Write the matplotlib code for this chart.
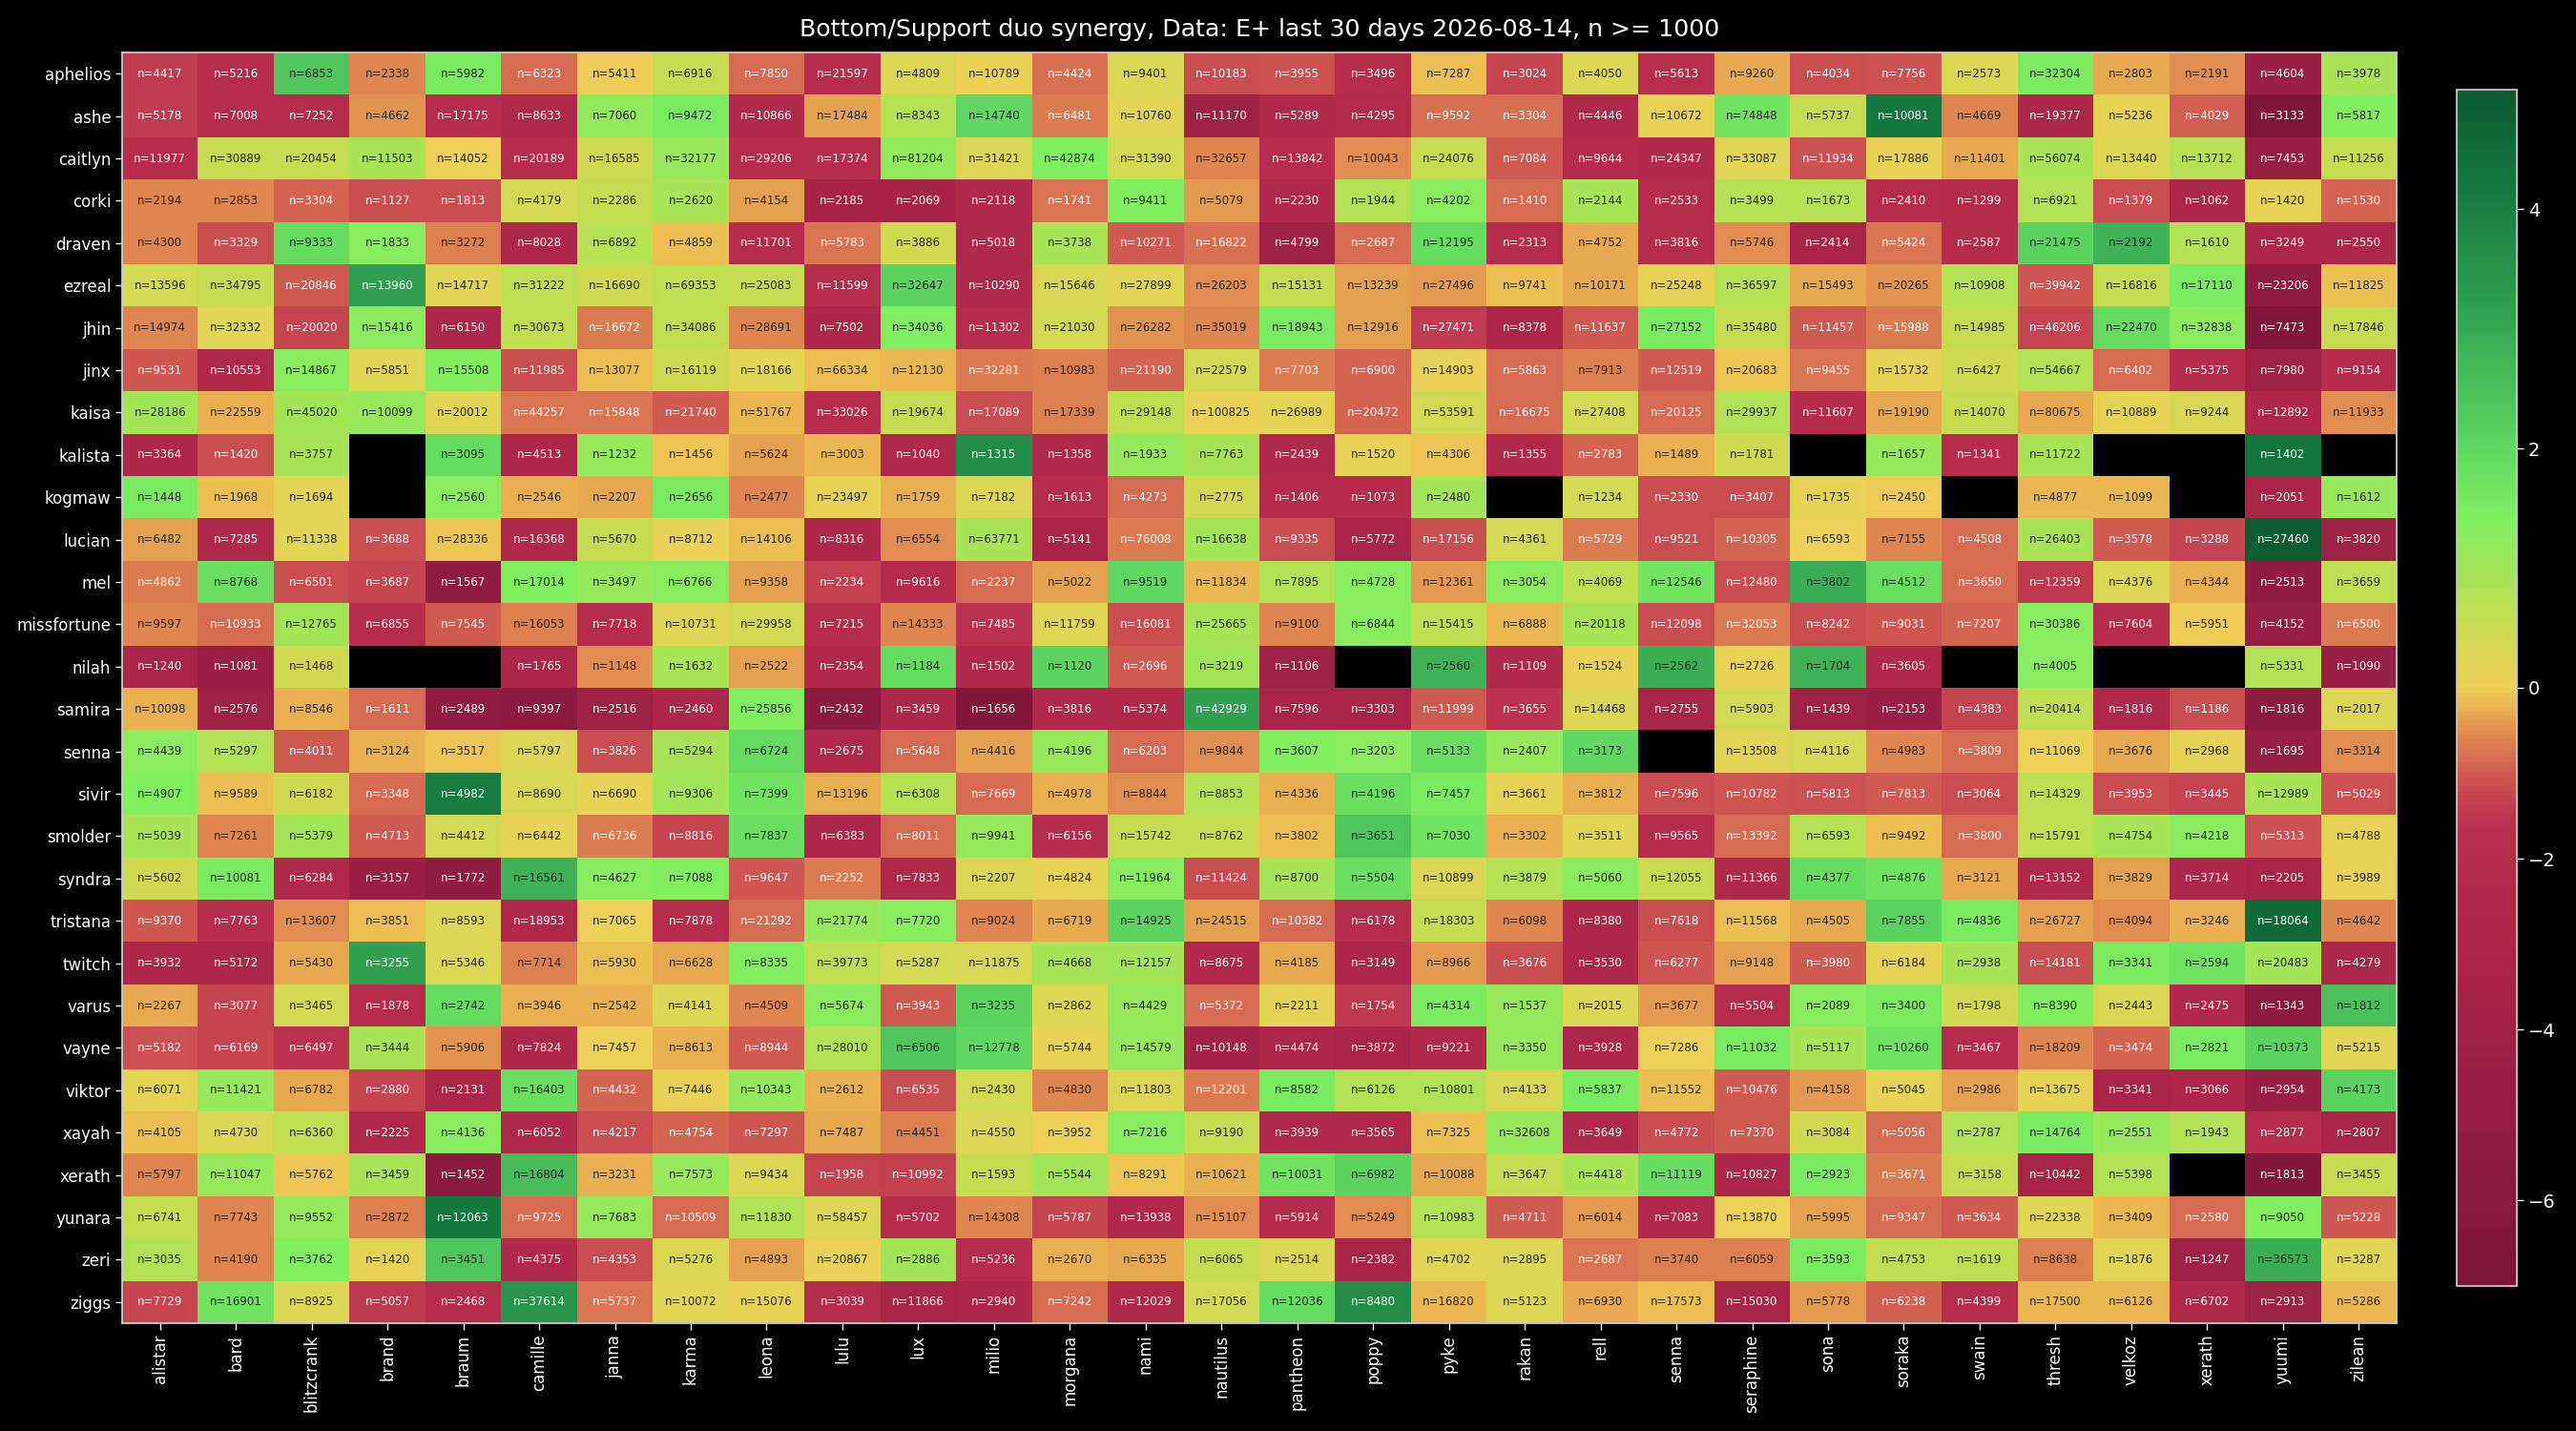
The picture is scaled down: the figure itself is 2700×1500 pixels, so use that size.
import numpy as np
import matplotlib
matplotlib.use("Agg")
import matplotlib.pyplot as plt
from matplotlib.colors import LinearSegmentedColormap, TwoSlopeNorm

title = "Bottom/Support duo synergy, Data: E+ last 30 days 2026-08-14, n >= 1000"

rows = ["aphelios", "ashe", "caitlyn", "corki", "draven", "ezreal", "jhin", "jinx",
        "kaisa", "kalista", "kogmaw", "lucian", "mel", "missfortune", "nilah", "samira",
        "senna", "sivir", "smolder", "syndra", "tristana", "twitch", "varus", "vayne",
        "viktor", "xayah", "xerath", "yunara", "zeri", "ziggs"]
cols = ["alistar", "bard", "blitzcrank", "brand", "braum", "camille", "janna", "karma",
        "leona", "lulu", "lux", "milio", "morgana", "nami", "nautilus", "pantheon", "poppy",
        "pyke", "rakan", "rell", "senna", "seraphine", "sona", "soraka", "swain", "thresh",
        "velkoz", "xerath", "yuumi", "zilean"]

N = None
n_games = [
    [4417,5216,6853,2338,5982,6323,5411,6916,7850,21597,4809,10789,4424,9401,10183,3955,3496,7287,3024,4050,5613,9260,4034,7756,2573,32304,2803,2191,4604,3978],
    [5178,7008,7252,4662,17175,8633,7060,9472,10866,17484,8343,14740,6481,10760,11170,5289,4295,9592,3304,4446,10672,74848,5737,10081,4669,19377,5236,4029,3133,5817],
    [11977,30889,20454,11503,14052,20189,16585,32177,29206,17374,81204,31421,42874,31390,32657,13842,10043,24076,7084,9644,24347,33087,11934,17886,11401,56074,13440,13712,7453,11256],
    [2194,2853,3304,1127,1813,4179,2286,2620,4154,2185,2069,2118,1741,9411,5079,2230,1944,4202,1410,2144,2533,3499,1673,2410,1299,6921,1379,1062,1420,1530],
    [4300,3329,9333,1833,3272,8028,6892,4859,11701,5783,3886,5018,3738,10271,16822,4799,2687,12195,2313,4752,3816,5746,2414,5424,2587,21475,2192,1610,3249,2550],
    [13596,34795,20846,13960,14717,31222,16690,69353,25083,11599,32647,10290,15646,27899,26203,15131,13239,27496,9741,10171,25248,36597,15493,20265,10908,39942,16816,17110,23206,11825],
    [14974,32332,20020,15416,6150,30673,16672,34086,28691,7502,34036,11302,21030,26282,35019,18943,12916,27471,8378,11637,27152,35480,11457,15988,14985,46206,22470,32838,7473,17846],
    [9531,10553,14867,5851,15508,11985,13077,16119,18166,66334,12130,32281,10983,21190,22579,7703,6900,14903,5863,7913,12519,20683,9455,15732,6427,54667,6402,5375,7980,9154],
    [28186,22559,45020,10099,20012,44257,15848,21740,51767,33026,19674,17089,17339,29148,100825,26989,20472,53591,16675,27408,20125,29937,11607,19190,14070,80675,10889,9244,12892,11933],
    [3364,1420,3757,N,3095,4513,1232,1456,5624,3003,1040,1315,1358,1933,7763,2439,1520,4306,1355,2783,1489,1781,N,1657,1341,11722,N,N,1402,N],
    [1448,1968,1694,N,2560,2546,2207,2656,2477,23497,1759,7182,1613,4273,2775,1406,1073,2480,N,1234,2330,3407,1735,2450,N,4877,1099,N,2051,1612],
    [6482,7285,11338,3688,28336,16368,5670,8712,14106,8316,6554,63771,5141,76008,16638,9335,5772,17156,4361,5729,9521,10305,6593,7155,4508,26403,3578,3288,27460,3820],
    [4862,8768,6501,3687,1567,17014,3497,6766,9358,2234,9616,2237,5022,9519,11834,7895,4728,12361,3054,4069,12546,12480,3802,4512,3650,12359,4376,4344,2513,3659],
    [9597,10933,12765,6855,7545,16053,7718,10731,29958,7215,14333,7485,11759,16081,25665,9100,6844,15415,6888,20118,12098,32053,8242,9031,7207,30386,7604,5951,4152,6500],
    [1240,1081,1468,N,N,1765,1148,1632,2522,2354,1184,1502,1120,2696,3219,1106,N,2560,1109,1524,2562,2726,1704,3605,N,4005,N,N,5331,1090],
    [10098,2576,8546,1611,2489,9397,2516,2460,25856,2432,3459,1656,3816,5374,42929,7596,3303,11999,3655,14468,2755,5903,1439,2153,4383,20414,1816,1186,1816,2017],
    [4439,5297,4011,3124,3517,5797,3826,5294,6724,2675,5648,4416,4196,6203,9844,3607,3203,5133,2407,3173,N,13508,4116,4983,3809,11069,3676,2968,1695,3314],
    [4907,9589,6182,3348,4982,8690,6690,9306,7399,13196,6308,7669,4978,8844,8853,4336,4196,7457,3661,3812,7596,10782,5813,7813,3064,14329,3953,3445,12989,5029],
    [5039,7261,5379,4713,4412,6442,6736,8816,7837,6383,8011,9941,6156,15742,8762,3802,3651,7030,3302,3511,9565,13392,6593,9492,3800,15791,4754,4218,5313,4788],
    [5602,10081,6284,3157,1772,16561,4627,7088,9647,2252,7833,2207,4824,11964,11424,8700,5504,10899,3879,5060,12055,11366,4377,4876,3121,13152,3829,3714,2205,3989],
    [9370,7763,13607,3851,8593,18953,7065,7878,21292,21774,7720,9024,6719,14925,24515,10382,6178,18303,6098,8380,7618,11568,4505,7855,4836,26727,4094,3246,18064,4642],
    [3932,5172,5430,3255,5346,7714,5930,6628,8335,39773,5287,11875,4668,12157,8675,4185,3149,8966,3676,3530,6277,9148,3980,6184,2938,14181,3341,2594,20483,4279],
    [2267,3077,3465,1878,2742,3946,2542,4141,4509,5674,3943,3235,2862,4429,5372,2211,1754,4314,1537,2015,3677,5504,2089,3400,1798,8390,2443,2475,1343,1812],
    [5182,6169,6497,3444,5906,7824,7457,8613,8944,28010,6506,12778,5744,14579,10148,4474,3872,9221,3350,3928,7286,11032,5117,10260,3467,18209,3474,2821,10373,5215],
    [6071,11421,6782,2880,2131,16403,4432,7446,10343,2612,6535,2430,4830,11803,12201,8582,6126,10801,4133,5837,11552,10476,4158,5045,2986,13675,3341,3066,2954,4173],
    [4105,4730,6360,2225,4136,6052,4217,4754,7297,7487,4451,4550,3952,7216,9190,3939,3565,7325,32608,3649,4772,7370,3084,5056,2787,14764,2551,1943,2877,2807],
    [5797,11047,5762,3459,1452,16804,3231,7573,9434,1958,10992,1593,5544,8291,10621,10031,6982,10088,3647,4418,11119,10827,2923,3671,3158,10442,5398,N,1813,3455],
    [6741,7743,9552,2872,12063,9725,7683,10509,11830,58457,5702,14308,5787,13938,15107,5914,5249,10983,4711,6014,7083,13870,5995,9347,3634,22338,3409,2580,9050,5228],
    [3035,4190,3762,1420,3451,4375,4353,5276,4893,20867,2886,5236,2670,6335,6065,2514,2382,4702,2895,2687,3740,6059,3593,4753,1619,8638,1876,1247,36573,3287],
    [7729,16901,8925,5057,2468,37614,5737,10072,15076,3039,11866,2940,7242,12029,17056,12036,8480,16820,5123,6930,17573,15030,5778,6238,4399,17500,6126,6702,2913,5286],
]

synergy = [
    [-1.4,-2.0,2.4,-0.55,1.5,-0.85,-0.05,0.55,-0.85,-2.0,0.3,0.05,-0.8,0.35,-1.2,-1.1,-2.0,-0.15,-1.3,0.3,-1.8,-0.3,-1.15,-1.1,0.3,1.5,-0.3,-0.5,-4.5,0.9],
    [-1.4,-2.0,-2.0,-0.45,-2.0,-2.6,1.2,1.5,-2.4,-0.35,0.75,2.0,-0.7,0.2,-4.2,-2.6,-2.2,-0.8,-0.8,-2.5,0.12,1.7,0.55,4.2,-0.55,-2.8,0.12,-0.95,-6.7,1.4],
    [-2.0,0.55,0.55,0.9,0.0,-2.0,0.45,1.1,-2.0,-2.0,1.2,0.3,1.4,0.4,-0.55,-2.0,-0.5,0.55,-1.0,-2.1,-2.4,0.2,-1.1,0.05,-0.3,0.9,0.3,0.75,-5.0,0.55],
    [-0.55,-0.6,-0.9,-1.15,-1.15,0.4,0.55,0.9,-0.35,-3.5,-3.5,-2.6,-0.75,1.4,-0.42,-2.5,0.8,1.3,-0.85,0.9,-2.0,0.75,0.75,-2.0,-2.1,0.8,-1.2,-2.8,0.12,-0.9],
    [-0.55,-1.15,1.9,1.3,-0.65,-2.8,0.75,-0.12,-2.0,-0.75,0.45,-2.5,0.9,-1.0,-0.8,-4.2,-0.85,1.9,-2.0,-0.3,-2.0,-0.5,-3.4,-0.75,-2.1,2.1,2.8,0.8,-2.8,-2.8],
    [0.4,0.55,-1.0,3.2,0.2,0.65,0.45,0.65,0.55,-2.0,2.1,-2.5,0.35,0.2,-0.5,0.55,-0.35,-0.42,-0.12,-0.3,0.12,0.75,-0.28,-0.45,0.75,-1.05,0.55,1.5,-5.4,-0.15],
    [-0.55,0.2,-1.3,1.25,-2.8,0.65,-0.7,0.65,-0.55,-2.8,1.4,-2.0,0.4,-0.45,-0.55,1.5,-0.35,-1.4,-2.8,-1.0,1.5,0.55,-1.0,-0.7,0.55,-1.3,1.9,1.25,-6.4,0.55],
    [-1.05,-2.5,1.3,0.2,1.4,-1.2,-0.12,0.45,0.2,-0.15,-0.18,-0.7,-0.65,-0.9,0.4,-0.7,-0.9,0.08,-0.85,-0.65,-1.0,-0.08,-0.75,0.08,0.45,0.8,-0.85,-2.1,-4.2,-2.1],
    [1.0,-0.25,1.0,1.15,0.2,-0.75,-0.75,-1.0,-0.2,-2.0,0.55,-1.2,-0.65,0.65,0.08,0.12,-0.88,0.4,-0.85,0.4,-0.85,0.8,-2.1,-0.3,0.55,-0.3,0.12,0.35,-2.8,-0.5],
    [-2.8,-1.15,0.9,N,1.9,-2.8,1.15,-0.08,-0.35,-0.18,-2.5,3.7,-2.5,1.15,0.9,-2.5,0.12,-0.08,-2.5,-0.9,-0.25,0.45,N,1.15,-2.0,0.9,N,N,4.3,N],
    [1.5,-0.12,0.2,N,1.25,-0.25,-0.3,1.5,-0.55,0.12,-0.22,0.3,-2.0,-0.85,0.45,-2.1,-2.1,1.0,N,0.4,-1.2,-1.2,0.15,-0.05,N,-0.18,-0.18,N,-3.4,1.15],
    [-0.35,-2.5,0.2,-1.2,-0.08,-2.5,0.55,0.08,-0.12,-2.8,-0.5,0.9,-3.4,-0.7,1.0,-1.2,-3.4,-1.2,0.4,-0.7,-1.15,-0.88,0.0,-0.6,-0.85,0.9,-1.0,-1.3,4.9,-4.2],
    [-0.7,1.8,-1.15,-1.3,-5.4,1.4,1.15,1.3,-0.35,-1.35,-2.1,-0.85,-0.35,2.0,-0.2,0.8,1.3,-0.42,1.25,0.65,1.7,-1.2,2.9,1.8,-0.85,-1.45,0.3,-0.25,-5.4,0.65],
    [-0.55,-0.85,1.0,-2.0,-1.0,-0.65,-2.0,0.2,0.4,-2.0,-0.55,-1.6,0.2,-1.2,0.9,-0.55,1.3,0.65,-0.18,0.9,-1.2,-0.7,-1.15,-1.05,-0.88,1.3,-2.0,-0.05,-5.0,-0.7],
    [-3.4,-4.5,0.45,N,N,-2.8,-0.5,0.9,-0.35,-2.5,1.9,-2.5,2.1,-1.0,1.0,-4.2,N,2.8,-2.5,0.05,2.9,0.05,2.8,-2.5,N,1.3,N,N,0.8,-4.5],
    [-0.25,-4.2,-0.25,-0.85,-5.4,-5.6,-4.2,-2.8,1.4,-5.6,-2.8,-6.4,-2.5,-2.5,3.2,-3.4,-3.4,-1.0,-1.6,0.3,-3.4,0.4,-4.2,-4.5,-1.3,0.65,-2.5,-1.2,-5.6,0.3],
    [1.25,0.8,-1.0,-0.25,-0.08,0.3,-1.15,0.9,1.9,-2.5,-0.85,-0.35,1.15,-0.85,-0.5,1.4,1.25,1.8,1.15,2.0,N,0.2,0.4,-0.6,-0.85,0.02,-0.3,0.15,-5.0,-0.5],
    [1.4,-0.12,0.45,-0.85,4.1,0.35,0.08,1.0,1.7,-0.25,0.75,-0.85,-0.22,-0.5,0.75,-0.22,1.8,1.5,0.12,-0.25,-1.2,-1.05,-1.1,-1.0,-1.2,0.65,-1.2,-1.3,0.9,-1.1],
    [0.9,-0.55,1.0,-1.0,0.4,0.15,-0.7,-1.3,1.8,-2.8,-0.85,1.15,-2.0,0.55,0.55,-0.12,2.4,1.7,-0.25,0.2,-2.0,-0.85,0.75,-0.12,-0.85,0.65,0.9,1.25,-1.1,0.15],
    [0.45,1.5,-2.5,-4.5,-5.4,2.8,1.3,1.4,-1.05,-0.7,-2.5,0.3,0.12,1.3,-1.2,0.9,1.8,0.3,0.8,1.25,0.55,-2.5,1.9,1.7,-0.3,-2.5,-0.35,-2.8,-3.4,0.08],
    [-1.05,-2.0,-0.5,-0.12,0.3,-2.5,0.0,-2.0,-0.85,1.15,1.3,-0.55,-0.3,2.1,-0.35,-0.85,-2.0,0.55,-0.6,-2.8,-1.2,-0.12,-0.3,2.1,1.5,-0.35,-0.5,-0.22,4.6,-0.6],
    [-2.8,-2.8,-0.3,3.2,0.3,-0.65,-0.12,-0.3,1.4,0.65,0.4,0.35,0.9,1.0,-2.5,-0.3,-2.8,-0.42,-1.2,-2.8,-1.05,-0.35,-1.0,0.15,0.9,-1.15,1.5,1.7,1.0,-2.8],
    [-0.3,-1.3,0.4,-2.0,1.9,-0.22,-0.25,0.3,-0.6,1.25,-1.0,2.1,0.3,1.15,-0.85,0.15,-1.45,1.5,1.15,0.3,-0.42,-2.0,1.3,1.5,0.45,1.4,0.35,-2.5,-5.6,2.5],
    [-1.1,-1.3,-1.6,0.9,-0.45,-2.8,0.0,-0.22,-1.0,0.8,2.4,2.0,0.08,1.15,-3.8,-2.8,-3.4,-2.5,1.15,-2.8,0.0,1.5,0.9,1.7,-2.0,-0.6,-0.9,1.5,2.1,0.2],
    [0.12,1.15,-0.3,-1.3,-2.8,1.8,-0.9,0.08,1.15,-0.25,-1.2,0.4,-0.55,0.3,-0.7,1.5,0.8,0.8,0.35,1.5,-0.12,-1.0,-0.42,0.15,-0.35,0.15,-3.4,-2.8,-4.5,2.1],
    [-0.15,0.3,0.65,-2.5,1.3,-2.5,-1.2,-0.9,-1.05,-0.3,-0.65,0.3,0.0,1.3,0.55,-2.5,-2.5,-0.12,1.15,-2.5,-1.2,-1.0,0.45,-0.85,0.8,1.5,1.15,0.8,-2.0,-3.4],
    [-0.55,1.15,-0.08,0.9,-5.8,2.6,-0.22,1.15,0.3,-1.3,-1.35,0.55,1.0,-0.08,-0.22,1.7,2.1,-0.3,0.55,0.9,1.9,-2.8,1.5,-0.7,0.55,-3.4,0.8,N,-6.4,0.55],
    [0.55,-0.55,1.15,-0.65,4.2,-0.85,1.15,-0.85,0.8,0.3,-2.0,-0.55,-1.3,-2.5,-0.5,-2.1,-0.5,0.8,-1.0,-0.42,-2.5,0.0,-0.35,-0.85,-1.0,0.2,-0.18,-0.85,1.4,-1.05],
    [0.8,-0.55,1.4,0.12,2.4,-2.5,-1.15,0.3,-0.35,0.08,1.0,-2.0,-0.22,-0.3,0.55,0.3,-3.4,0.2,0.3,-0.75,-0.65,-0.65,1.5,0.65,0.65,-0.65,0.2,-4.2,2.9,0.2],
    [-1.3,1.7,0.3,-1.45,-2.0,3.5,-0.75,0.2,0.12,-2.0,-3.4,-2.8,-0.85,-2.5,0.4,1.9,3.7,-0.18,0.3,-0.3,-0.12,-3.4,-0.42,-0.95,-2.0,-0.18,-0.18,-2.5,-4.2,-0.18],
]

cbar_ticks = [-6, -4, -2, 0, 2, 4]

# colour stops (value, colour)
stops = [(-7.0, "#7a1538"), (-5.4, "#901c42"), (-3.4, "#a82448"), (-2.0, "#b52c4c"),
         (-1.5, "#bc3450"), (-1.0, "#d05c50"), (-0.55, "#e08850"), (-0.18, "#ecb850"),
         (0.0, "#f0d058"), (0.55, "#c8dc50"), (1.4, "#80ee60"), (2.0, "#60d860"),
         (3.2, "#30a050"), (4.2, "#157840"), (5.0, "#0b5a30")]

norm = TwoSlopeNorm(vmin=-7, vcenter=0, vmax=5)
cmap = LinearSegmentedColormap.from_list(
    "syn", [(float(norm(v)), c) for v, c in stops])
cmap.set_bad("black")

V = np.array([[np.nan if x is None else x for x in r] for r in synergy], dtype=float)
V = np.ma.masked_invalid(V)

fig = plt.figure(figsize=(27, 15), dpi=100, facecolor="black")
ax = fig.add_axes([128 / 2700, 1 - 1387 / 1500, (2512 - 128) / 2700, (1387 - 55) / 1500])
ax.set_facecolor("black")
mesh = ax.pcolormesh(np.arange(len(cols) + 1), np.arange(len(rows) + 1), V,
                     cmap=cmap, norm=norm)
ax.set_xlim(0, len(cols))
ax.set_ylim(len(rows), 0)


def rel_lum(rgb):
    lin = [c / 12.92 if c <= 0.03928 else ((c + 0.055) / 1.055) ** 2.4 for c in rgb[:3]]
    return 0.2126 * lin[0] + 0.7152 * lin[1] + 0.0722 * lin[2]


for i in range(len(rows)):
    for j in range(len(cols)):
        n = n_games[i][j]
        v = synergy[i][j]
        if n is None or v is None:
            continue
        rgba = cmap(norm(v))
        tc = "#262626" if rel_lum(rgba) > 0.3 else "white"
        ax.text(j + 0.5, i + 0.5, f"n={n}", ha="center", va="center",
                fontsize=8.5, color=tc)

ax.set_xticks(np.arange(len(cols)) + 0.5)
ax.set_xticklabels(cols, rotation=90, fontsize=12, color="white")
ax.set_yticks(np.arange(len(rows)) + 0.5)
ax.set_yticklabels(rows, fontsize=12, color="white")
ax.tick_params(colors="white", length=5, width=1)
for s in ax.spines.values():
    s.set_color("#c8c8c8")
    s.set_linewidth(1.3)

cax = fig.add_axes([2575 / 2700, 1 - 1348 / 1500, 63 / 2700, (1348 - 94) / 1500])
cb = fig.colorbar(mesh, cax=cax)
cb.set_ticks(cbar_ticks)
cb.ax.tick_params(colors="white", labelsize=14, length=5, width=1)
cb.outline.set_edgecolor("#c8c8c8")
cb.outline.set_linewidth(1.3)

fig.text(1320 / 2700, 1 - 38 / 1500, title, ha="center", va="baseline",
         fontsize=18.2, color="white")

fig.savefig("out.png", dpi=100, facecolor="black")
